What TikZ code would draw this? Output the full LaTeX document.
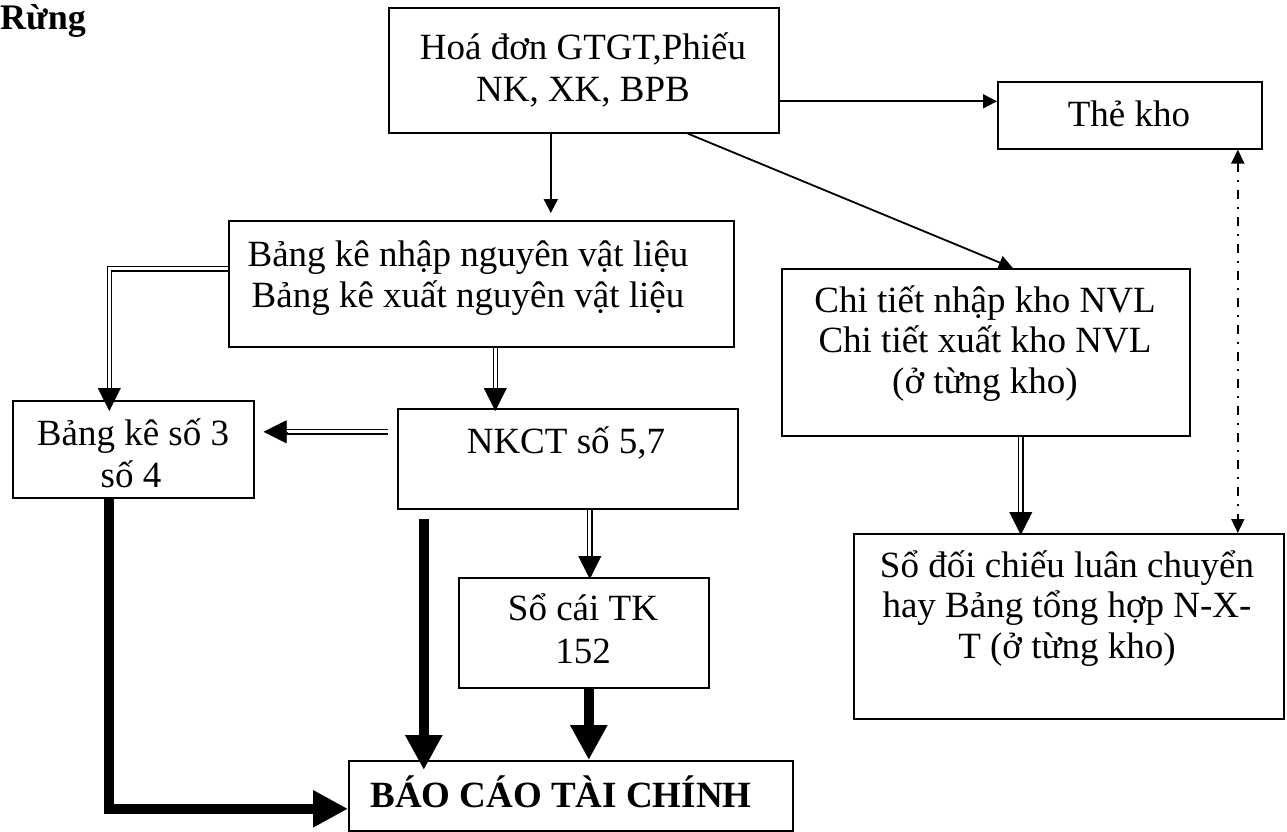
\documentclass[tikz,border=0pt]{standalone}
\usepackage{fontspec}
\setmainfont{Liberation Serif}
\usetikzlibrary{arrows.meta,calc}
\begin{document}
\begin{tikzpicture}[x=1pt,y=-1pt,
  box/.style={draw, line width=1.6pt, inner sep=0pt, anchor=north west},
  txt/.style={inner sep=0pt, anchor=base, font=\fontsize{37pt}{41pt}\selectfont},
  plain/.style={line width=1.8pt, -{Triangle[length=14pt,width=14pt]}},
  dbl/.style={double, double distance=3pt, line width=1.3pt, shorten >=22pt},
  dhead/.style={line width=0.4pt, -{Triangle[length=23pt,width=23pt]}},
  heavy/.style={line width=10pt, -{Triangle[length=35pt,width=35pt]}},
  dashdot/.style={line width=1.8pt, dash pattern=on 9pt off 8pt on 2pt off 8pt,
    {Triangle[length=14pt,width=13pt]}-{Triangle[length=14pt,width=13pt]}}
]
\useasboundingbox (0,0) rectangle (1287,832);

% boxes
\node[box, minimum width=390pt, minimum height=125pt] (hoadon)  at (388,7)   {};
\node[box, minimum width=264pt, minimum height=67pt]  (thekho)  at (997,81)  {};
\node[box, minimum width=505pt, minimum height=126pt] (bangke)  at (228,220) {};
\node[box, minimum width=408pt, minimum height=167pt] (chitiet) at (781,268) {};
\node[box, minimum width=241pt, minimum height=97pt]  (bk3)     at (12,400)  {};
\node[box, minimum width=340pt, minimum height=100pt] (nkct)    at (397,408) {};
\node[box, minimum width=250pt, minimum height=110pt] (socai)   at (458,577) {};
\node[box, minimum width=430pt, minimum height=185pt] (sodoi)   at (853,533) {};
\node[box, minimum width=444pt, minimum height=70pt]  (baocao)  at (348,760) {};

% texts
\node[inner sep=0pt, anchor=base west, font=\fontsize{36pt}{40pt}\selectfont\bfseries] (rung) at (0,30) {Rừng};
\node[txt] (hd1) at (583,60)  {Hoá đơn GTGT,Phiếu};
\node[txt] (hd2) at (583,102) {NK, XK, BPB};
\node[txt] (tk)  at (1129,127) {Thẻ kho};
\node[txt] (bk1) at (468,266) {Bảng kê nhập nguyên vật liệu};
\node[txt] (bk2) at (468,307) {Bảng kê xuất nguyên vật liệu};
\node[txt] (ct1) at (985,312) {Chi tiết nhập kho NVL};
\node[txt] (ct2) at (985,352) {Chi tiết xuất kho NVL};
\node[txt] (ct3) at (985,393) {(ở từng kho)};
\node[txt] (b31) at (133,445) {Bảng kê số 3};
\node[txt] (b32) at (131,487) {số 4};
\node[txt] (nk)  at (566,453) {NKCT số 5,7};
\node[txt] (sc1) at (583,620) {Sổ cái TK};
\node[txt] (sc2) at (583,663) {152};
\node[txt] (sd1) at (1067,577) {Sổ đối chiếu luân chuyển};
\node[txt] (sd2) at (1067,617) {hay Bảng tổng hợp N-X-};
\node[txt] (sd3) at (1067,658) {T (ở từng kho)};
\node[txt, font=\fontsize{37pt}{41pt}\selectfont\bfseries] (bc) at (561,807) {BÁO CÁO TÀI CHÍNH};

% single arrows
\coordinate (c1) at ([xshift=-33pt]hoadon.south);
\draw[plain, shorten >=7pt] (c1) -- (c1 |- bangke.north);
\coordinate (c2) at ([yshift=-31pt]hoadon.east);
\draw[plain] (c2) -- (c2 -| thekho.west);
\draw[plain] ([xshift=104pt]hoadon.south) -- ([xshift=27pt]chitiet.north);

% double arrows
\coordinate (c4) at ([yshift=15pt]bangke.west);
\coordinate (c4e) at ([xshift=-24pt,yshift=-11pt]bk3.north);
\draw[dbl] (c4) -| (c4e);
\draw[dhead] ([yshift=23pt]c4e) -- (c4e);

\coordinate (c5) at ([xshift=-9pt,yshift=27pt]nkct.west);
\coordinate (c5e) at (c5 -| bk3.east);
\draw[dbl] (c5) -- ([xshift=9pt]c5e);
\draw[dhead] ([xshift=32pt]c5e) -- ([xshift=9pt]c5e);

\coordinate (c6) at ([xshift=14pt]bangke.south);
\coordinate (c6e) at (c6 |- nkct.north);
\draw[dbl] (c6) -- ([yshift=-3pt]c6e);
\draw[dhead] ([yshift=20pt]c6e) -- ([yshift=-3pt]c6e);

\coordinate (c7) at ([xshift=22pt]nkct.south);
\coordinate (c7e) at (c7 |- socai.north);
\draw[dbl] (c7) -- ([yshift=-2pt]c7e);
\draw[dhead] ([yshift=21pt]c7e) -- ([yshift=-2pt]c7e);

\coordinate (c8) at ([xshift=35pt]chitiet.south);
\coordinate (c8e) at (c8 |- sodoi.north);
\draw[dbl] (c8) -- ([yshift=-2pt]c8e);
\draw[dhead] ([yshift=21pt]c8e) -- ([yshift=-2pt]c8e);

% dash-dot link between stock card and summary
\coordinate (c9) at ([xshift=108pt]thekho.south);
\draw[dashdot] (c9) -- (c9 |- sodoi.north);

% heavy arrows into the financial report
\coordinate (c10) at ([xshift=-24pt]bk3.south);
\coordinate (c10e) at ([yshift=-13pt]baocao.west);
\draw[heavy] (c10) |- (c10e);
\coordinate (c11) at ([xshift=-144pt,yshift=-9pt]nkct.south);
\coordinate (c11e) at (c11 |- baocao.north);
\draw[heavy] (c11) -- ([yshift=-10pt]c11e);
\coordinate (c12) at ([xshift=5pt]socai.south);
\draw[heavy] (c12) -- (c12 |- baocao.north);
\end{tikzpicture}
\end{document}
